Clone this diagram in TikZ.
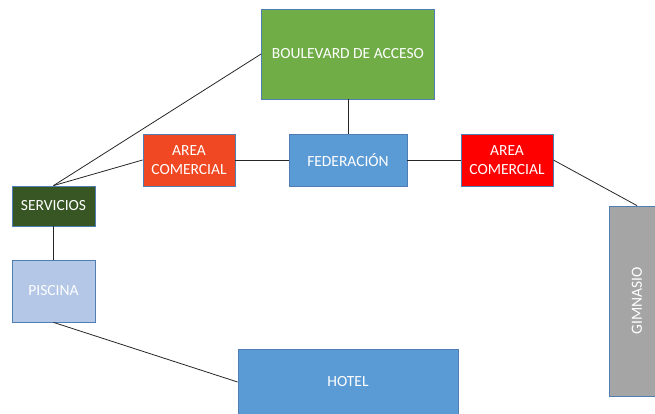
\documentclass[tikz,border=0pt]{standalone}
\usepackage{fontspec}
\setmainfont{Carlito}
\definecolor{bord}{RGB}{80,126,178}
\definecolor{cgreen}{RGB}{112,173,71}
\definecolor{cblue}{RGB}{91,155,213}
\definecolor{corange}{RGB}{240,72,34}
\definecolor{cred}{RGB}{255,0,0}
\definecolor{cdkgreen}{RGB}{55,86,35}
\definecolor{clblue}{RGB}{180,199,231}
\definecolor{cgray}{RGB}{165,165,165}
\begin{document}
\begin{tikzpicture}[x=1pt,y=-1pt,
  box/.style={draw=bord,line width=0.8pt,text=white,inner sep=0pt,align=center,font=\fontsize{15.5}{18.5}\selectfont},
  link/.style={draw=black!85,line width=0.8pt}]
\useasboundingbox (0,0) rectangle (655,414);
\begin{scope}
\clip (0,0) rectangle (655,414);
\node[box,fill=cgreen,minimum width=173pt,minimum height=90pt] (blv) at (348,54) {BOULEVARD DE ACCESO};
\node[box,fill=cblue,minimum width=118pt,minimum height=52pt] (fed) at (348,160) {FEDERACIÓN};
\node[box,fill=corange,minimum width=92pt,minimum height=52pt] (acl) at (189,160) {AREA\\COMERCIAL};
\node[box,fill=cred,minimum width=92pt,minimum height=52pt] (acr) at (507,160) {AREA\\COMERCIAL};
\node[box,fill=cdkgreen,minimum width=83pt,minimum height=40pt] (srv) at (53.5,206) {SERVICIOS};
\node[box,fill=clblue,minimum width=83pt,minimum height=62pt] (pis) at (53.5,291) {PISCINA};
\node[box,fill=cblue,minimum width=220pt,minimum height=66pt] (hot) at (348,382) {HOTEL};
\node[box,fill=cgray,minimum width=56pt,minimum height=190pt] (gim) at (637,301) {};
\node[text=white,rotate=90,font=\fontsize{15.5}{18.5}\selectfont] (gimt) at (gim.center) {GIMNASIO};
\draw[link] (srv.north) -- (blv.west);
\draw[link] (srv.north) -- (acl.west);
\draw[link] (srv.south) -- (pis.north);
\draw[link] (pis.south) -- (hot.west);
\draw[link] (acl.east) -- (fed.west);
\draw[link] (fed.east) -- (acr.west);
\draw[link] (blv.south) -- (fed.north);
\draw[link] (acr.east) -- (gim.north);
\end{scope}
\end{tikzpicture}
\end{document}
